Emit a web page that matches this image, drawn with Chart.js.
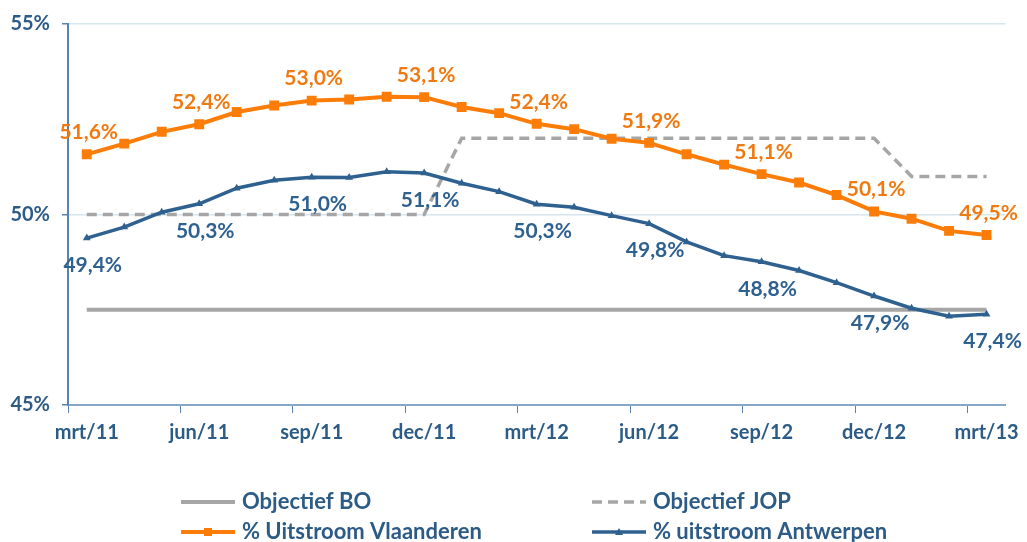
<!DOCTYPE html>
<html>
<head>
<meta charset="utf-8">
<script src="https://cdn.jsdelivr.net/npm/chart.js@4.4.1/dist/chart.umd.min.js"></script>
<style>
  body { margin: 0; background: #fff; }
  #wrap { width: 1027px; height: 542px; }
</style>
</head>
<body>
<div id="wrap"><canvas id="lineChart"></canvas></div>
<script>
// maanden mrt/11 .. mrt/13
const maanden = ['mrt/11', 'apr/11', 'mei/11', 'jun/11', 'jul/11', 'aug/11', 'sep/11', 'okt/11', 'nov/11',
  'dec/11', 'jan/12', 'feb/12', 'mrt/12', 'apr/12', 'mei/12', 'jun/12', 'jul/12', 'aug/12', 'sep/12',
  'okt/12', 'nov/12', 'dec/12', 'jan/13', 'feb/13', 'mrt/13'];

const vlaanderen = [51.58, 51.86, 52.17, 52.37, 52.69, 52.86, 52.99, 53.02, 53.09, 53.08, 52.82, 52.66, 52.38,
  52.24, 51.99, 51.88, 51.58, 51.31, 51.06, 50.84, 50.51, 50.08, 49.89, 49.57, 49.46];
const antwerpen = [49.38, 49.67, 50.06, 50.28, 50.69, 50.90, 50.98, 50.97, 51.12, 51.09, 50.82, 50.60, 50.27,
  50.19, 49.97, 49.76, 49.28, 48.92, 48.76, 48.53, 48.21, 47.86, 47.54, 47.33, 47.38];
const objectiefBO = [47.5, 47.5, 47.5, 47.5, 47.5, 47.5, 47.5, 47.5, 47.5, 47.5, 47.5, 47.5, 47.5,
  47.5, 47.5, 47.5, 47.5, 47.5, 47.5, 47.5, 47.5, 47.5, 47.5, 47.5, 47.5];
const objectiefJOP = [50, 50, 50, 50, 50, 50, 50, 50, 50, 50, 52, 52, 52,
  52, 52, 52, 52, 52, 52, 52, 52, 52, 51, 51, 51];
const yTicks = [45, 50, 55];

const tekstKleur = '#2c5b86';
const oranje = '#fb7d07';
const blauw = '#2f6190';
const grijs = '#a6a6a6';
const FONT = 'Lato';

const fmt = v => v.toFixed(1).replace('.', ',') + '%';

// labels boven/onder elke 3de maand
const labelPlugin = {
  id: 'waardeLabels',
  afterDatasetsDraw(chart) {
    const ctx = chart.ctx;
    ctx.save();
    ctx.font = 'bold 21px ' + FONT;
    ctx.textAlign = 'center';
    ctx.textBaseline = 'middle';
    chart.data.datasets.forEach((ds, di) => {
      if (!ds.showLabels) return;
      const meta = chart.getDatasetMeta(di);
      meta.data.forEach((pt, i) => {
        if (i % 3 !== 0) return;
        ctx.fillStyle = ds.labelColor;
        ctx.fillText(fmt(ds.data[i]), pt.x + ds.labelDx, pt.y + ds.labelDy);
      });
    });
    ctx.restore();
  }
};

// legende in 2 kolommen
const legendPlugin = {
  id: 'legende2x2',
  afterDraw(chart) {
    const ctx = chart.ctx;
    const cols = [181, 592];
    const rows = [502, 532];
    ctx.save();
    chart.data.datasets.forEach((ds, k) => {
      const x = cols[k % 2];
      const y = rows[Math.floor(k / 2)];
      ctx.strokeStyle = ds.borderColor;
      ctx.lineWidth = ds.borderWidth;
      ctx.setLineDash(ds.borderDash || []);
      ctx.beginPath();
      ctx.moveTo(x, y);
      ctx.lineTo(x + 54, y);
      ctx.stroke();
      ctx.setLineDash([]);
      ctx.fillStyle = ds.borderColor;
      if (ds.pointStyle === 'rect') {
        ctx.fillRect(x + 23, y - 4, 8, 8);
      } else if (ds.pointStyle === 'triangle') {
        ctx.beginPath();
        ctx.moveTo(x + 27, y - 4);
        ctx.lineTo(x + 31, y + 3);
        ctx.lineTo(x + 23, y + 3);
        ctx.closePath();
        ctx.fill();
      }
      ctx.fillStyle = tekstKleur;
      ctx.font = 'bold 22px ' + FONT;
      ctx.textBaseline = 'middle';
      ctx.textAlign = 'left';
      ctx.fillText(ds.label, x + 61, y);
    });
    ctx.restore();
  }
};

new Chart(document.getElementById('lineChart'), {
  type: 'line',
  data: {
    labels: maanden,
    datasets: [
      {
        label: 'Objectief BO',
        data: objectiefBO,
        borderColor: grijs,
        borderWidth: 4,
        pointRadius: 0,
        order: 2
      },
      {
        label: 'Objectief JOP',
        data: objectiefJOP,
        borderColor: grijs,
        borderWidth: 3.5,
        borderDash: [10, 6],
        pointRadius: 0,
        order: 3
      },
      {
        label: '% Uitstroom Vlaanderen',
        data: vlaanderen,
        borderColor: oranje,
        backgroundColor: oranje,
        borderWidth: 4,
        pointStyle: 'rect',
        pointRadius: 7,
        pointBorderWidth: 0,
        order: 0,
        showLabels: true,
        labelColor: '#f07a12',
        labelDx: 2,
        labelDy: -22
      },
      {
        label: '% uitstroom Antwerpen',
        data: antwerpen,
        borderColor: blauw,
        backgroundColor: blauw,
        borderWidth: 3.5,
        pointStyle: 'triangle',
        pointRadius: 4.5,
        pointBorderWidth: 0,
        order: 1,
        showLabels: true,
        labelColor: blauw,
        labelDx: 6,
        labelDy: 27
      }
    ]
  },
  options: {
    responsive: true,
    maintainAspectRatio: false,
    animation: false,
    layout: { padding: { top: 22, right: 19, bottom: 77, left: 0 } },
    elements: { line: { tension: 0 } },
    plugins: {
      legend: { display: false },
      tooltip: { enabled: false }
    },
    scales: {
      x: {
        offset: true,
        afterFit(scale) { scale.height = 60; },
        border: { color: '#86a8c8', width: 2 },
        grid: {
          offset: true,
          drawOnChartArea: false,
          drawTicks: true,
          tickLength: 8,
          tickColor: c => (c.index % 3 === 0 ? '#5a82ad' : 'rgba(0,0,0,0)')
        },
        ticks: {
          autoSkip: false,
          maxRotation: 0,
          padding: 8,
          color: tekstKleur,
          font: { family: FONT, size: 20, weight: 'bold' },
          callback: (v, i) => (i % 3 === 0 ? maanden[i] : '')
        }
      },
      y: {
        min: 45,
        max: 55,
        afterFit(scale) { scale.width = 68; },
        afterBuildTicks(scale) { scale.ticks = yTicks.map(v => ({ value: v })); },
        border: { color: '#5a82ad', width: 2 },
        grid: {
          color: '#d6e6ee',
          lineWidth: 1.5,
          tickLength: 6,
          tickColor: '#5a82ad'
        },
        ticks: {
          padding: 12,
          color: tekstKleur,
          font: { family: FONT, size: 20, weight: 'bold' },
          callback: v => v + '%'
        }
      }
    }
  },
  plugins: [labelPlugin, legendPlugin]
});
</script>
</body>
</html>
